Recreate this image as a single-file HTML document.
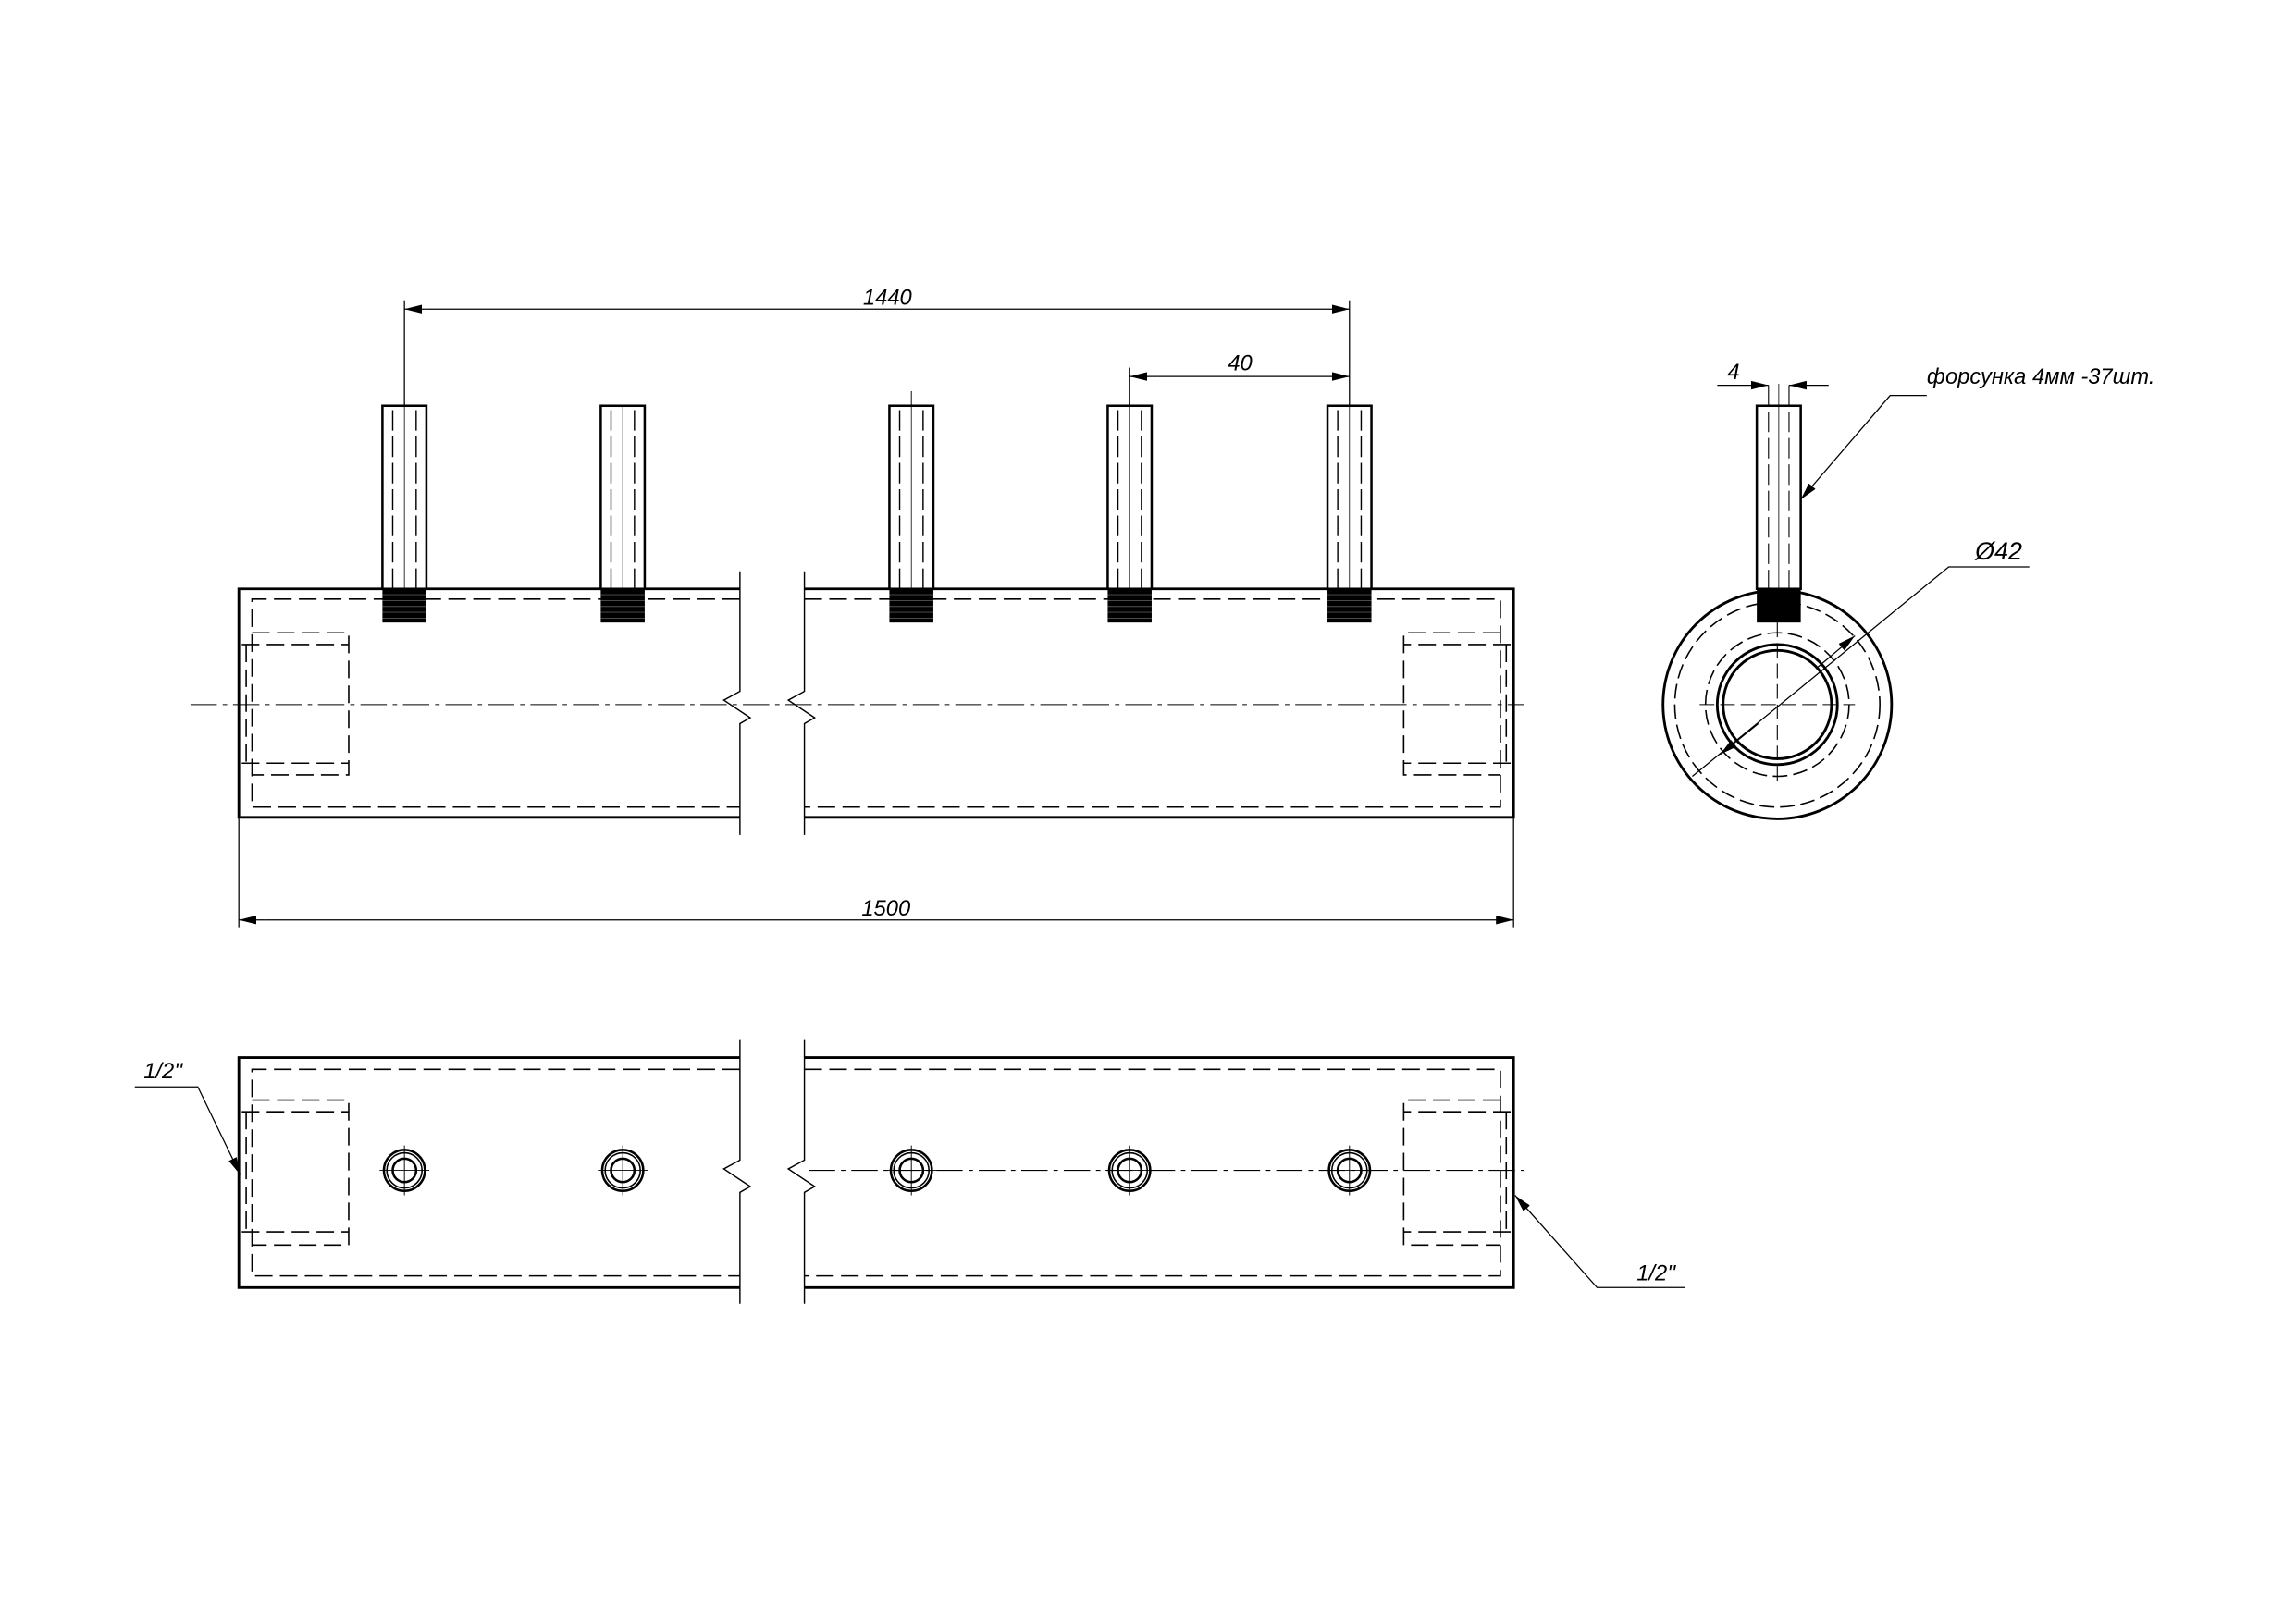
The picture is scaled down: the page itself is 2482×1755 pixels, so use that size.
<!DOCTYPE html>
<html><head><meta charset="utf-8"><style>
html,body{margin:0;padding:0;background:#fff;}
svg{display:block;}
text{font-family:"Liberation Sans","DejaVu Sans",sans-serif;font-style:italic;fill:#000;}
</style></head><body>
<svg width="2482" height="1755" viewBox="0 0 1567 1108" preserveAspectRatio="none" xmlns="http://www.w3.org/2000/svg">
<defs>
<g id="noz">
  <rect x="-15" y="277" width="30" height="125" fill="#fff" stroke="#000" stroke-width="1.6"/>
  <line x1="-8" y1="280" x2="-8" y2="402" stroke="#000" stroke-width="0.9" stroke-dasharray="14 4"/>
  <line x1="8" y1="280" x2="8" y2="402" stroke="#000" stroke-width="0.9" stroke-dasharray="14 4"/>
  <line x1="0" y1="277" x2="0" y2="402" stroke="#000" stroke-width="0.5"/>
  <rect x="-15" y="402" width="30" height="23" fill="#000"/>
  <g stroke="#555" stroke-width="0.6">
    <line x1="-15" y1="406" x2="15" y2="406"/><line x1="-15" y1="410" x2="15" y2="410"/>
    <line x1="-15" y1="414" x2="15" y2="414"/><line x1="-15" y1="418" x2="15" y2="418"/>
    <line x1="-15" y1="422" x2="15" y2="422"/>
  </g>
</g>
<g id="hole" fill="none" stroke="#000">
  <circle r="14" stroke-width="1.6"/>
  <circle r="12" stroke-width="1"/>
  <circle r="8" stroke-width="1.6"/>
  <line x1="-17" y1="0" x2="17" y2="0" stroke-width="0.6"/>
  <line x1="0" y1="-17" x2="0" y2="17" stroke-width="0.6"/>
</g>
<marker id="ar" viewBox="0 0 12 6" refX="12" refY="3" markerWidth="12" markerHeight="6" markerUnits="userSpaceOnUse" orient="auto">
  <path d="M0,0 L12,3 L0,6 z" fill="#000"/>
</marker>
</defs>

<g fill="none" stroke="#000">
  <path d="M505,402 H163 V558 H505" stroke-width="1.8"/>
  <path d="M549,402 H1033 V558 H549" stroke-width="1.8"/>
  <path d="M505,390 V472 L494,478 L512,490 L505,494 V570" stroke-width="0.9"/>
  <path d="M549,390 V472 L538,478 L556,490 L549,494 V570" stroke-width="0.9"/>
  <path d="M505,409 H172 V551 H505" stroke-width="1" stroke-dasharray="12 5"/>
  <path d="M549,409 H1024 V551 H549" stroke-width="1" stroke-dasharray="12 5"/>
  <path d="M172,432 H238 V529 H172" stroke-width="1" stroke-dasharray="12 5"/>
  <path d="M165,440 H238 M165,521 H238 M168,440 V521" stroke-width="1" stroke-dasharray="12 5"/>
  <path d="M1024,432 H958 V529 H1024" stroke-width="1" stroke-dasharray="12 5"/>
  <path d="M1031,440 H958 M1031,521 H958 M1028,440 V521" stroke-width="1" stroke-dasharray="12 5"/>
  <line x1="130" y1="481" x2="1040" y2="481" stroke-width="0.7" stroke-dasharray="18 4 3 4"/>
</g>
<use href="#noz" x="276"/>
<use href="#noz" x="425"/>
<use href="#noz" x="622"/>
<use href="#noz" x="771"/>
<use href="#noz" x="921"/>
<line x1="622" y1="267" x2="622" y2="277" stroke="#000" stroke-width="0.6"/>

<g stroke="#000" stroke-width="0.8" fill="none">
  <line x1="276" y1="205" x2="276" y2="277"/>
  <line x1="921" y1="205" x2="921" y2="277"/>
  <line x1="290" y1="211" x2="276" y2="211" marker-end="url(#ar)"/>
  <line x1="290" y1="211" x2="921" y2="211" marker-end="url(#ar)"/>
  <line x1="771" y1="251" x2="771" y2="277"/>
  <line x1="790" y1="257" x2="771" y2="257" marker-end="url(#ar)"/>
  <line x1="790" y1="257" x2="921" y2="257" marker-end="url(#ar)"/>
  <line x1="163" y1="558" x2="163" y2="633"/>
  <line x1="1033" y1="558" x2="1033" y2="633"/>
  <line x1="180" y1="628" x2="163" y2="628" marker-end="url(#ar)"/>
  <line x1="180" y1="628" x2="1033" y2="628" marker-end="url(#ar)"/>
</g>
<text x="589" y="208" font-size="15">1440</text>
<text x="838" y="253" font-size="15">40</text>
<text x="588" y="625" font-size="15">1500</text>

<g fill="none" stroke="#000">
  <path d="M505,722 H163 V879 H505" stroke-width="1.8"/>
  <path d="M549,722 H1033 V879 H549" stroke-width="1.8"/>
  <path d="M505,710 V792 L494,798 L512,810 L505,814 V890" stroke-width="0.9"/>
  <path d="M549,710 V792 L538,798 L556,810 L549,814 V890" stroke-width="0.9"/>
  <path d="M505,730 H172 V871 H505" stroke-width="1" stroke-dasharray="12 5"/>
  <path d="M549,730 H1024 V871 H549" stroke-width="1" stroke-dasharray="12 5"/>
  <path d="M172,751 H238 V850 H172" stroke-width="1" stroke-dasharray="12 5"/>
  <path d="M165,759 H238 M165,841 H238 M168,759 V841" stroke-width="1" stroke-dasharray="12 5"/>
  <path d="M1024,751 H958 V850 H1024" stroke-width="1" stroke-dasharray="12 5"/>
  <path d="M1031,759 H958 M1031,841 H958 M1028,759 V841" stroke-width="1" stroke-dasharray="12 5"/>
  <line x1="552" y1="799" x2="1040" y2="799" stroke-width="0.7" stroke-dasharray="18 4 3 4"/>
</g>
<use href="#hole" x="276" y="799"/>
<use href="#hole" x="425" y="799"/>
<use href="#hole" x="622" y="799"/>
<use href="#hole" x="771" y="799"/>
<use href="#hole" x="921" y="799"/>
<g stroke="#000" stroke-width="0.8" fill="none">
  <path d="M92,742 H135 L164,802" marker-end="url(#ar)"/>
  <path d="M1150,879 H1090 L1034,816" marker-end="url(#ar)"/>
</g>
<text x="98" y="736" font-size="15">1/2''</text>
<text x="1117" y="874" font-size="15">1/2''</text>

<g fill="none" stroke="#000">
  <circle cx="1213" cy="481" r="78" stroke-width="1.8"/>
  <circle cx="1213" cy="481" r="70" stroke-width="1" stroke-dasharray="10 4"/>
  <circle cx="1213" cy="481" r="49" stroke-width="1" stroke-dasharray="10 4"/>
  <circle cx="1213" cy="481" r="41" stroke-width="1.8"/>
  <circle cx="1213" cy="481" r="37" stroke-width="1.8"/>
  <line x1="1160" y1="481" x2="1266" y2="481" stroke-width="0.7" stroke-dasharray="10 4"/>
  <line x1="1213" y1="425" x2="1213" y2="536" stroke-width="0.7" stroke-dasharray="10 4"/>
</g>
<g transform="translate(1214,0)">
  <rect x="-15" y="277" width="30" height="125" fill="#fff" stroke="#000" stroke-width="1.6"/>
  <line x1="-7" y1="263" x2="-7" y2="402" stroke="#000" stroke-width="0.7" stroke-dasharray="14 4"/>
  <line x1="7" y1="263" x2="7" y2="402" stroke="#000" stroke-width="0.7" stroke-dasharray="14 4"/>
  <line x1="0" y1="262" x2="0" y2="402" stroke="#000" stroke-width="0.5"/>
  <rect x="-15" y="402" width="30" height="23" fill="#000"/>
</g>
<g stroke="#000" stroke-width="0.8" fill="none">
  <line x1="1172" y1="263" x2="1207" y2="263" marker-end="url(#ar)"/>
  <line x1="1248" y1="263" x2="1221" y2="263" marker-end="url(#ar)"/>
  <path d="M1315,270 H1290 L1229,341" marker-end="url(#ar)"/>
  <path d="M1385,387 H1330 L1155,530" />
  <path d="M1200,494 L1174,515" marker-end="url(#ar)"/>
  <path d="M1240,456 L1266,434" marker-end="url(#ar)"/>
</g>
<text x="1179" y="259" font-size="15">4</text>
<text x="1315" y="262" font-size="15">форсунка 4мм -37шт.</text>
<text x="1348" y="382" font-size="17">Ø42</text>
</svg>
</body></html>
